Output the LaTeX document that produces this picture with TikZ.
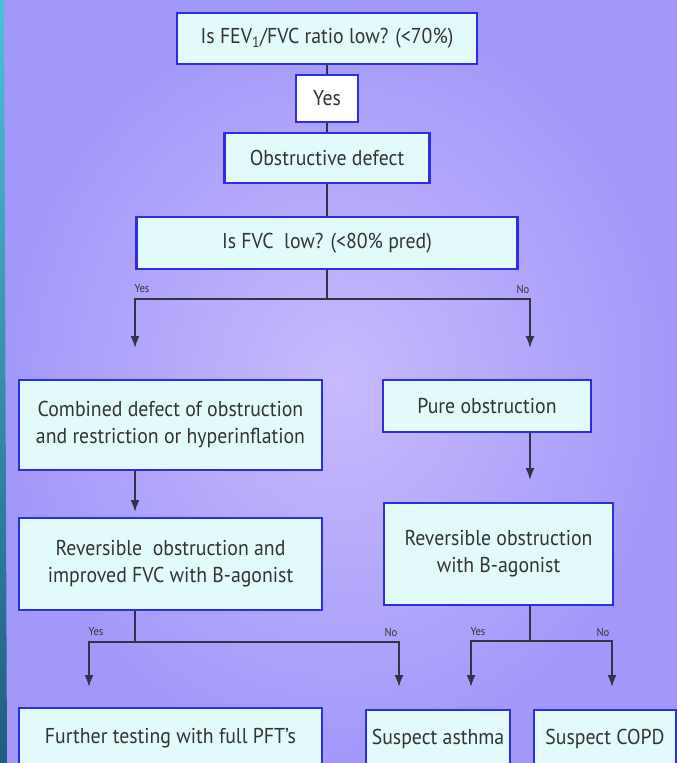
\documentclass[tikz,border=0pt]{standalone}
\usepackage{fontspec}
\setmainfont{PT Sans}[FakeStretch=0.92]
\usepackage{tikz}
\usetikzlibrary{arrows.meta}
\definecolor{fondoA}{RGB}{200,186,252}
\definecolor{fondoB}{RGB}{162,152,250}
\definecolor{tealA}{RGB}{78,192,214}
\definecolor{tealB}{RGB}{32,92,128}
\definecolor{borde}{RGB}{45,45,228}
\definecolor{relleno}{RGB}{226,251,250}
\definecolor{texto}{RGB}{52,52,52}
\definecolor{gris}{RGB}{50,50,72}

\begin{document}
\begin{tikzpicture}[x=1pt, y=-1pt,
	caja/.style={draw=borde, line width=2.8pt, fill=relleno, text=texto, align=center, inner sep=0pt, font=\fontsize{21.5}{27}\selectfont},
	linea/.style={draw=gris, line width=2pt},
	flecha/.style={linea, -{Latex[length=12pt,width=9pt]}},
	etiqueta/.style={font=\fontsize{11.5}{12}\selectfont, text=texto, inner sep=0pt}
	]

	%Fondo
	\useasboundingbox (0,0) rectangle (677,763);
	\clip (0,0) rectangle (677,763);
	\shade[inner color=fondoA, outer color=fondoB] (0,0) rectangle (677,763);
	\shade[top color=tealA, bottom color=tealB] (0,0) -- (4,0) -- (7,763) -- (0,763) -- cycle;

	%Creamos las cajas
	\node[caja, minimum width=300, minimum height=51] (fev) at (327,38.5) {Is FEV\textsubscript{1}/FVC ratio low? (<70\%)};
	\node[caja, minimum width=62, minimum height=47, fill=white] (si) at (327,98.5) {Yes};
	\node[caja, minimum width=205, minimum height=50] (obst) at (327,158) {Obstructive defect};
	\node[caja, minimum width=381, minimum height=52] (fvc) at (327,243) {Is FVC\ \ low? (<80\% pred)};
	\node[caja, minimum width=303, minimum height=90] (comb) at (170.5,425) {Combined defect of obstruction\\and restriction or hyperinflation};
	\node[caja, minimum width=208, minimum height=52] (pura) at (487,406) {Pure obstruction};
	\node[caja, minimum width=303, minimum height=92] (revI) at (170.5,564) {Reversible\ \ obstruction and\\improved FVC with B-agonist};
	\node[caja, minimum width=229, minimum height=102] (revD) at (498.5,554) {Reversible obstruction\\with B-agonist};
	\node[caja, minimum width=303, minimum height=60] (pft) at (170.5,738) {Further testing with full PFT's};
	\node[caja, minimum width=144, minimum height=58] (asma) at (438,739) {Suspect asthma};
	\node[caja, minimum width=142, minimum height=58] (epoc) at (605,739) {Suspect COPD};

	%Puntos de union y puntas
	\coordinate (j1) at (327,299);
	\coordinate (a1) at (135,348);
	\coordinate (a2) at (530,348);
	\coordinate (a3) at (135,512);
	\coordinate (a4) at (530,480);
	\coordinate (j2) at (135,642);
	\coordinate (a5) at (89,687);
	\coordinate (a6) at (399,687);
	\coordinate (j3) at (530,641);
	\coordinate (a7) at (471,687);
	\coordinate (a8) at (612,687);

	%Lineas del tronco
	\draw[linea] (fev) -- (si);
	\draw[linea] (si) -- (obst);
	\draw[linea] (obst) -- (fvc);
	\draw[linea] (fvc) -- (j1);
	\draw[flecha] (j1) -| (a1);
	\draw[flecha] (j1) -| (a2);
	%Flechas a la segunda fila
	\draw[flecha] (comb.south -| a3) -- (a3);
	\draw[flecha] (pura.south -| a4) -- (a4);
	%Ramas de abajo
	\draw[linea] (revI.south -| j2) -- (j2);
	\draw[flecha] (j2) -| (a5);
	\draw[flecha] (j2) -| (a6);
	\draw[linea] (revD.south -| j3) -- (j3);
	\draw[flecha] (j3) -| (a7);
	\draw[flecha] (j3) -| (a8);

	%Etiquetas
	\node[etiqueta] (e1) at (142,289) {Yes};
	\node[etiqueta] (e2) at (523,289) {No};
	\node[etiqueta] (e3) at (96,632) {Yes};
	\node[etiqueta] (e4) at (391,632) {No};
	\node[etiqueta] (e5) at (478,632) {Yes};
	\node[etiqueta] (e6) at (603,632) {No};
\end{tikzpicture}
\end{document}
